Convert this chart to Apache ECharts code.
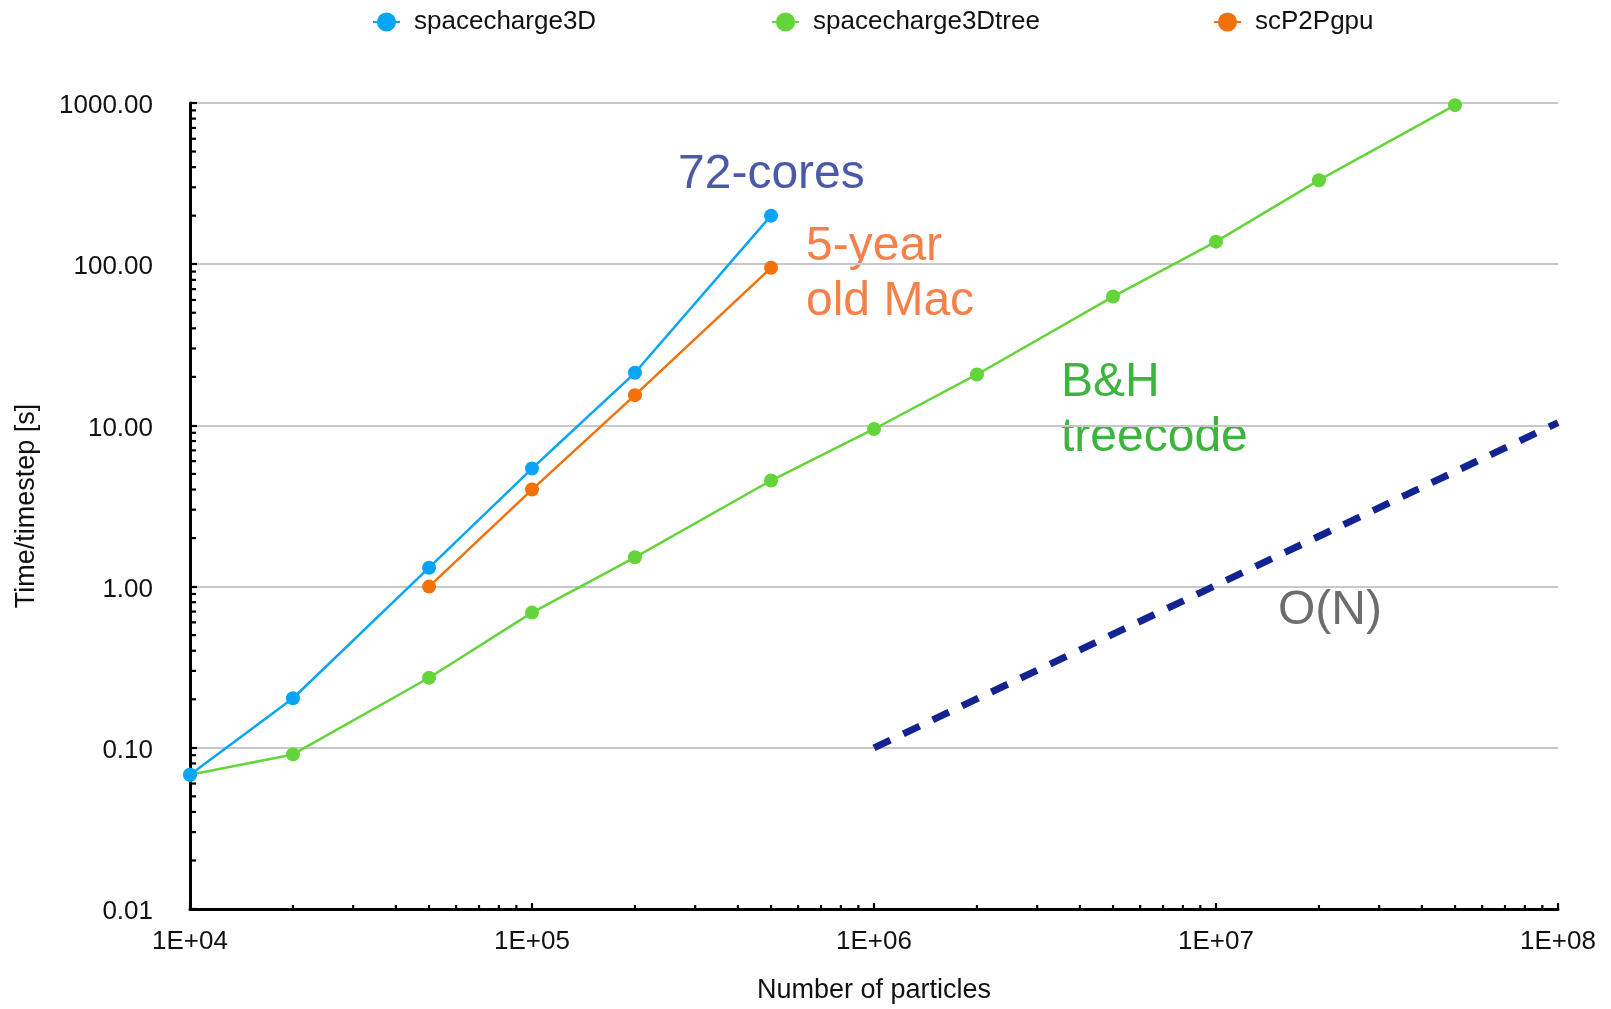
<!DOCTYPE html>
<html>
<head>
<meta charset="utf-8">
<title>Time per timestep vs number of particles</title>
<script src="https://cdn.jsdelivr.net/npm/echarts@6/dist/echarts.min.js"></script>
<style>
  html, body { margin: 0; padding: 0; background: #ffffff; }
  #chart { width: 1611px; height: 1009px; }
</style>
</head>
<body>
<div id="chart"></div>
<script>
// Direct-sum space charge on 72 cores
const particles3D = [1e4, 2e4, 5e4, 1e5, 2e5, 5e5];
const time3D = [0.068, 0.203, 1.31, 5.4, 21.2, 200];

// Barnes & Hut treecode
const particlesTree = [1e4, 2e4, 5e4, 1e5, 2e5, 5e5, 1e6, 2e6, 5e6, 1e7, 2e7, 5e7];
const timeTree = [0.068, 0.091, 0.272, 0.69, 1.52, 4.55, 9.5, 20.7, 63, 138, 332, 970];

// Particle-to-particle on the GPU of an old Mac
const particlesGpu = [5e4, 1e5, 2e5, 5e5];
const timeGpu = [1.0, 4.0, 15.4, 95];

// Linear-scaling guide line
const guideN = [1e6, 1e8];
const guideT = [0.1, 10.4];

const seriesNames = ['spacecharge3D', 'spacecharge3Dtree', 'scP2Pgpu'];
const seriesColors = ['#08a5f7', '#63d53a', '#f27109'];

const FONT = '"Liberation Sans", Arial, Helvetica, sans-serif';

// Minor tick positions (2..9 within each decade) for both log axes
function decadeSteps(fromExp, toExp) {
  const out = [];
  for (let e = fromExp; e < toExp; e++) {
    for (let m = 2; m <= 9; m++) out.push(m * Math.pow(10, e));
  }
  return out;
}
const xMinor = decadeSteps(4, 8);
const yMinor = decadeSteps(-2, 3);

function pairs(xs, ys) { return xs.map((x, i) => [x, ys[i]]); }

function dataSeries(name, xs, ys, color, z) {
  return {
    name: name,
    type: 'line',
    data: pairs(xs, ys),
    symbol: 'circle',
    symbolSize: 14,
    z: z,
    itemStyle: { color: color },
    lineStyle: { color: color, width: 2.5 },
    emphasis: { disabled: true }
  };
}

function minorTicks(values, horizontal) {
  return {
    type: 'custom',
    silent: true,
    z: 5,
    data: values.map(v => horizontal ? [v, 0.01] : [1e4, v]),
    renderItem: function (params, api) {
      const p = api.coord([api.value(0), api.value(1)]);
      const shape = horizontal
        ? { x1: p[0], y1: p[1], x2: p[0], y2: p[1] - 4 }
        : { x1: p[0], y1: p[1], x2: p[0] + 6, y2: p[1] };
      return { type: 'line', shape: shape, style: { stroke: '#000', lineWidth: 2.2 } };
    }
  };
}

function legendAt(name, left) {
  return {
    data: [name],
    left: left,
    top: 4,
    itemWidth: 27,
    itemHeight: 24,
    selectedMode: false,
    textStyle: { fontFamily: FONT, fontSize: 26, color: '#111', padding: [0, 0, 0, 9] }
  };
}

function note(text, x, y, color) {
  return {
    type: 'text',
    left: x,
    top: y,
    silent: true,
    style: {
      text: text,
      fill: color,
      font: '48px ' + FONT,
      lineHeight: 55
    }
  };
}

const chart = echarts.init(document.getElementById('chart'), null, { renderer: 'canvas' });

chart.setOption({
  animation: false,
  backgroundColor: '#ffffff',
  legend: [
    legendAt(seriesNames[0], 367),
    legendAt(seriesNames[1], 766),
    legendAt(seriesNames[2], 1208)
  ],
  grid: { left: 190, right: 53, top: 103, bottom: 98.5 },
  xAxis: {
    type: 'log',
    logBase: 10,
    min: 1e4,
    max: 1e8,
    name: 'Number of particles',
    nameLocation: 'middle',
    nameGap: 68,
    nameTextStyle: { fontFamily: FONT, fontSize: 27, color: '#111' },
    axisLine: { lineStyle: { color: '#000', width: 3 } },
    axisTick: { inside: true, length: 6, lineStyle: { color: '#000', width: 2.2 } },
    axisLabel: {
      margin: 20,
      fontFamily: FONT,
      fontSize: 26,
      color: '#111',
      formatter: function (v) {
        const e = Math.round(Math.log10(v));
        return '1E+' + String(e).padStart(2, '0');
      }
    },
    splitLine: { show: false }
  },
  yAxis: {
    type: 'log',
    logBase: 10,
    min: 0.01,
    max: 1000,
    name: 'Time/timestep [s]',
    nameLocation: 'middle',
    nameGap: 150,
    nameTextStyle: { fontFamily: FONT, fontSize: 27, color: '#111' },
    axisLine: { show: true, lineStyle: { color: '#000', width: 3 } },
    axisTick: { show: true, inside: true, length: 7, lineStyle: { color: '#000', width: 2.2 } },
    axisLabel: {
      margin: 37,
      fontFamily: FONT,
      fontSize: 26,
      color: '#111',
      formatter: function (v) { return '{v|' + Number(v).toFixed(2) + '}'; },
      rich: {
        v: { fontFamily: FONT, fontSize: 26, color: '#111', padding: [6, 0, 0, 0] }
      }
    },
    splitLine: { show: true, lineStyle: { color: '#c8c8c8', width: 1.8 } }
  },
  graphic: [
    note('72-cores', 678, 147, '#4b5aa7'),
    note('5-year\nold Mac', 806, 219, '#f5804a'),
    note('B&H\ntreecode', 1061, 355, '#3bb53b'),
    note('O(N)', 1278, 583, '#6d6d6d')
  ],
  series: [
    {
      name: 'O(N)',
      type: 'line',
      data: pairs(guideN, guideT),
      symbol: 'none',
      silent: true,
      z: 2,
      lineStyle: { color: '#13238f', width: 7, type: [18, 14.5], cap: 'butt' }
    },
    minorTicks(xMinor, true),
    minorTicks(yMinor, false),
    dataSeries(seriesNames[1], particlesTree, timeTree, seriesColors[1], 3),
    dataSeries(seriesNames[2], particlesGpu, timeGpu, seriesColors[2], 4),
    dataSeries(seriesNames[0], particles3D, time3D, seriesColors[0], 6)
  ]
});
</script>
</body>
</html>
